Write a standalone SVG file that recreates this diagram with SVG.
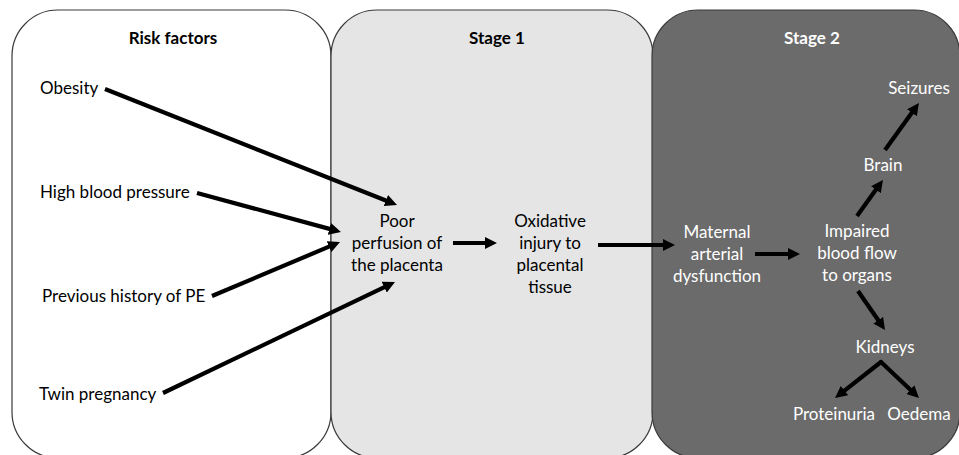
<svg xmlns="http://www.w3.org/2000/svg" width="959" height="455" viewBox="0 0 959 455">
<style>
.panel{stroke:#3a3a3a;stroke-width:1.2}
text{font-family:Lato,"Open Sans","Liberation Sans",sans-serif;font-size:17px;fill:#000}
.t{font-weight:bold;font-size:17px}
.c{text-anchor:middle}
.w{fill:#fff}
.a{stroke:#000;stroke-width:4.2;fill:none}
</style>
<defs>
<marker id="ah" viewBox="0 0 12 12" refX="2" refY="6" markerWidth="12" markerHeight="12" markerUnits="userSpaceOnUse" orient="auto">
<path d="M0,0 L12,6 L0,12 z" fill="#000"/>
</marker>
</defs>
<rect width="959" height="455" fill="#fff"/>
<g id="panel-risk">
<rect class="panel" x="12" y="10" width="319" height="448" rx="46" fill="#fff"/>
<text class="t c" x="173" y="44">Risk factors</text>
</g>
<g id="panel-stage1">
<rect class="panel" x="331" y="10" width="322" height="448" rx="46" fill="#e5e5e5"/>
<text class="t c" x="497" y="44">Stage 1</text>
</g>
<g id="panel-stage2">
<rect class="panel" x="652" y="10" width="308" height="448" rx="46" fill="#6b6b6b"/>
<text class="t c w" x="812" y="44">Stage 2</text>
</g>
<g id="obesity"><text x="40" y="94">Obesity</text></g>
<g id="hbp"><text x="40" y="198">High blood pressure</text></g>
<g id="prev"><text x="42" y="302">Previous history of PE</text></g>
<g id="twin"><text x="39" y="400">Twin pregnancy</text></g>
<g id="poor"><text class="c" x="397" y="227">Poor<tspan x="397" dy="22">perfusion of</tspan><tspan x="397" dy="22">the placenta</tspan></text></g>
<g id="oxidative"><text class="c" x="550" y="227">Oxidative<tspan x="550" dy="22">injury to</tspan><tspan x="550" dy="22">placental</tspan><tspan x="550" dy="22">tissue</tspan></text></g>
<g id="maternal"><text class="c w" x="717" y="238">Maternal<tspan x="717" dy="22">arterial</tspan><tspan x="717" dy="22">dysfunction</tspan></text></g>
<g id="impaired"><text class="c w" x="857" y="237">Impaired<tspan x="857" dy="22">blood flow</tspan><tspan x="857" dy="22">to organs</tspan></text></g>
<g id="seizures"><text class="c w" x="919" y="94">Seizures</text></g>
<g id="brain"><text class="c w" x="883" y="171">Brain</text></g>
<g id="kidneys"><text class="c w" x="885" y="353">Kidneys</text></g>
<g id="proteinuria"><text class="c w" x="834" y="420">Proteinuria</text></g>
<g id="oedema"><text class="c w" x="919" y="420">Oedema</text></g>
<g id="connectors">
<line class="a" x1="105" y1="89" x2="387.7" y2="201.3" marker-end="url(#ah)"/>
<line class="a" x1="197" y1="193" x2="331.3" y2="229.4" marker-end="url(#ah)"/>
<line class="a" x1="212" y1="296" x2="330.8" y2="245.9" marker-end="url(#ah)"/>
<line class="a" x1="163" y1="393" x2="386" y2="286.3" marker-end="url(#ah)"/>
<line class="a" x1="453" y1="243" x2="487" y2="243" marker-end="url(#ah)"/>
<line class="a" x1="598" y1="245" x2="665" y2="245" marker-end="url(#ah)"/>
<line class="a" x1="755" y1="254" x2="790" y2="254" marker-end="url(#ah)"/>
<line class="a" x1="857" y1="216" x2="877.1" y2="188.1" marker-end="url(#ah)"/>
<line class="a" x1="885" y1="150" x2="913.1" y2="111.1" marker-end="url(#ah)"/>
<line class="a" x1="858" y1="291" x2="879.3" y2="321.8" marker-end="url(#ah)"/>
<line class="a" x1="881" y1="362" x2="842.9" y2="391.8" marker-end="url(#ah)" stroke-linecap="round"/>
<line class="a" x1="881" y1="362" x2="911.7" y2="391.1" marker-end="url(#ah)" stroke-linecap="round"/>
</g>
</svg>
